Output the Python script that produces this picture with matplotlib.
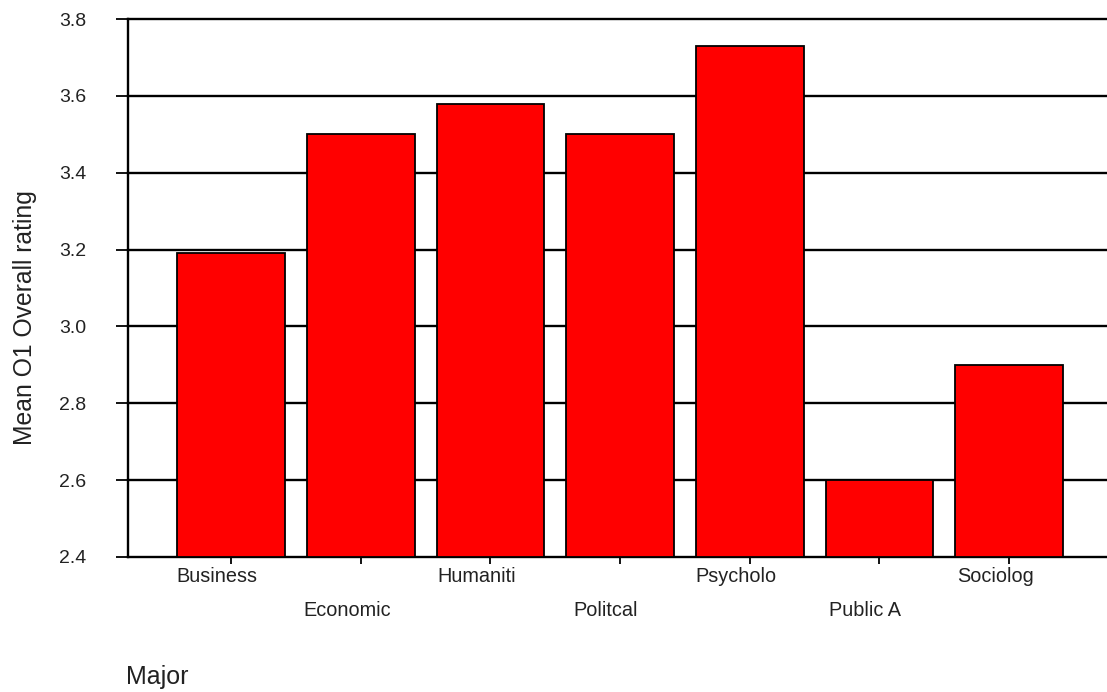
import matplotlib
matplotlib.use("Agg")
import matplotlib.pyplot as plt
import matplotlib.transforms as mtransforms

# data
majors = ["Business", "Economic", "Humaniti", "Politcal", "Psycholo", "Public A", "Sociolog"]
mean_rating = [3.19, 3.50, 3.58, 3.50, 3.73, 2.60, 2.90]
y_ticks = [2.4, 2.6, 2.8, 3.0, 3.2, 3.4, 3.6, 3.8]

plt.rcParams['font.family'] = ['Liberation Sans', 'DejaVu Sans']

W, H = 1107, 692
fig = plt.figure(figsize=(W / 100, H / 100), dpi=100)
ax = fig.add_axes([128 / W, 135 / H, (W - 128) / W, 538 / H])

x = list(range(len(majors)))
bottom = 2.4
ax.bar(x, [v - bottom for v in mean_rating], bottom=bottom, width=0.83,
       color='#ff0000', edgecolor='black', linewidth=1.3, zorder=3)

ax.set_ylim(2.4, 3.8)
ax.set_xlim(-0.795, 6.755)
ax.set_yticks(y_ticks)
ax.set_yticklabels([f"{t:.1f}" for t in y_ticks], fontsize=14, color='#222222')
for t in y_ticks[1:]:
    ax.axhline(t, color='black', linewidth=1.7, zorder=1, clip_on=False)

ax.set_xticks(x)
ax.set_xticklabels([])
ax.tick_params(axis='x', length=5, width=1.3, direction='out')
ax.tick_params(axis='y', length=9, width=1.3, direction='out', pad=21)

for s in ['top', 'right']:
    ax.spines[s].set_visible(False)
for s in ['left', 'bottom']:
    ax.spines[s].set_linewidth(1.7)

# staggered category labels
shift = mtransforms.ScaledTranslation(-14 / 100, 0, fig.dpi_scale_trans)
for i, name in enumerate(majors):
    yoff = -20 if i % 2 == 0 else -54
    tr = mtransforms.blended_transform_factory(ax.transData, ax.transAxes) + shift
    ax.annotate(name, xy=(i, 0), xycoords=tr, xytext=(0, yoff), textcoords='offset pixels',
                ha='center', va='center', fontsize=14.3, color='#222222')

fig.text(25 / W, 1 - 318 / H, "Mean O1 Overall rating", rotation=90, ha='center', va='center',
         fontsize=17.8, color='#222222')
fig.text(126 / W, 1 - 677 / H, "Major", ha='left', va='center', fontsize=18, color='#222222')

fig.savefig("out.png", dpi=100)
